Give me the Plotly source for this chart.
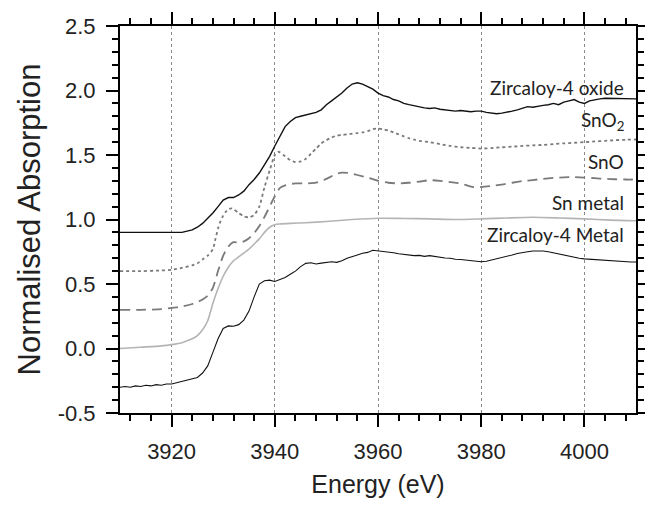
import plotly.graph_objects as go

# ---------------- data ----------------
oxide_E = [3910, 3912, 3914, 3916, 3918, 3920, 3921, 3922, 3923, 3924, 3925, 3926, 3927, 3928, 3929,
           3930, 3931, 3932, 3933, 3934, 3935, 3936, 3937, 3938, 3939, 3940, 3941, 3942, 3943, 3944,
           3945, 3946, 3947, 3948, 3949, 3950, 3951, 3952, 3953, 3954, 3955, 3956, 3957, 3958, 3959,
           3960, 3961, 3962, 3963, 3964, 3965, 3966, 3967, 3968, 3969, 3970, 3971, 3972, 3973, 3974,
           3975, 3976, 3977, 3978, 3979, 3980, 3981, 3982, 3983, 3984, 3985, 3986, 3987, 3988, 3989,
           3990, 3991, 3992, 3993, 3994, 3995, 3996, 3997, 3998, 3999, 4000, 4001, 4002, 4003, 4004,
           4006, 4008, 4010]
oxide_A = [0.90, 0.90, 0.90, 0.90, 0.90, 0.90, 0.905, 0.90, 0.91, 0.92, 0.94, 0.97, 1.01, 1.05, 1.10,
           1.15, 1.17, 1.17, 1.19, 1.22, 1.27, 1.31, 1.36, 1.42, 1.49, 1.57, 1.65, 1.72, 1.76, 1.79,
           1.80, 1.81, 1.815, 1.83, 1.85, 1.89, 1.92, 1.95, 1.98, 2.02, 2.05, 2.06, 2.05, 2.03, 2.01,
           1.98, 1.96, 1.95, 1.93, 1.92, 1.90, 1.89, 1.88, 1.87, 1.865, 1.86, 1.865, 1.855, 1.85, 1.84,
           1.84, 1.845, 1.84, 1.835, 1.84, 1.84, 1.83, 1.825, 1.82, 1.825, 1.83, 1.84, 1.85, 1.86, 1.875,
           1.87, 1.88, 1.885, 1.89, 1.90, 1.89, 1.91, 1.92, 1.93, 1.91, 1.90, 1.92, 1.93, 1.935, 1.94,
           1.94, 1.94, 1.935]

sno2_E = [3910, 3914, 3918, 3920, 3922, 3924, 3925, 3926, 3927, 3928, 3928.5, 3929, 3929.5, 3930, 3930.5,
          3931, 3931.6, 3932, 3933, 3934, 3935, 3936, 3937, 3938, 3939, 3940, 3940.6, 3941, 3942, 3943,
          3944, 3945, 3946, 3947, 3948, 3949, 3950, 3951, 3952, 3953, 3954, 3955, 3956, 3957, 3958,
          3959, 3960, 3961, 3962, 3963, 3964, 3965, 3966, 3967, 3968, 3970, 3972, 3974, 3976, 3978,
          3980, 3982, 3984, 3986, 3988, 3990, 3992, 3994, 3996, 3998, 4000, 4002, 4004, 4006, 4008, 4010]
sno2_A = [0.60, 0.60, 0.605, 0.61, 0.625, 0.645, 0.66, 0.69, 0.72, 0.77, 0.85, 0.93, 0.99, 1.03, 1.06,
          1.08, 1.087, 1.08, 1.05, 1.025, 1.017, 1.035, 1.10, 1.25, 1.38, 1.50, 1.525, 1.52, 1.49, 1.46,
          1.445, 1.45, 1.47, 1.51, 1.55, 1.59, 1.615, 1.635, 1.65, 1.655, 1.66, 1.665, 1.67, 1.675, 1.685,
          1.70, 1.705, 1.70, 1.69, 1.675, 1.66, 1.645, 1.63, 1.62, 1.61, 1.60, 1.585, 1.57, 1.56, 1.555,
          1.55, 1.553, 1.56, 1.565, 1.57, 1.575, 1.578, 1.585, 1.59, 1.595, 1.60, 1.605, 1.61, 1.615, 1.618, 1.62]

sno_E = [3910, 3914, 3918, 3920, 3922, 3924, 3925, 3926, 3927, 3928, 3929, 3930, 3931, 3932, 3933,
         3934, 3935, 3936, 3937, 3938, 3939, 3940, 3941, 3942, 3943, 3944, 3946, 3948, 3950, 3951,
         3952, 3953, 3954, 3955, 3956, 3958, 3960, 3962, 3964, 3966, 3968, 3970, 3972, 3974, 3976,
         3978, 3979, 3980, 3982, 3984, 3986, 3988, 3990, 3992, 3994, 3996, 3998, 4000, 4002, 4004,
         4006, 4008, 4010]
sno_A = [0.30, 0.30, 0.305, 0.315, 0.325, 0.345, 0.36, 0.38, 0.41, 0.47, 0.60, 0.72, 0.79, 0.825, 0.82,
         0.83, 0.855, 0.895, 0.95, 1.02, 1.10, 1.18, 1.245, 1.265, 1.275, 1.28, 1.28, 1.285, 1.315, 1.335,
         1.355, 1.363, 1.362, 1.355, 1.345, 1.325, 1.30, 1.285, 1.28, 1.285, 1.293, 1.305, 1.30, 1.29, 1.28,
         1.255, 1.25, 1.252, 1.26, 1.27, 1.285, 1.298, 1.306, 1.315, 1.322, 1.327, 1.328, 1.325, 1.32, 1.315,
         1.312, 1.31, 1.31]

sn_E = [3910, 3914, 3918, 3920, 3922, 3923, 3924, 3925, 3926, 3927, 3928, 3929, 3930, 3931, 3932,
        3933, 3934, 3935, 3936, 3937, 3938, 3939, 3940, 3941, 3943, 3946, 3950, 3955, 3960, 3965,
        3970, 3975, 3980, 3985, 3990, 3995, 4000, 4005, 4010]
sn_A = [0.00, 0.01, 0.02, 0.03, 0.045, 0.06, 0.075, 0.10, 0.145, 0.215, 0.35, 0.465, 0.56, 0.63, 0.68,
        0.71, 0.74, 0.77, 0.81, 0.85, 0.90, 0.94, 0.96, 0.965, 0.97, 0.975, 0.985, 1.00, 1.01, 1.008,
        1.005, 1.00, 1.005, 1.012, 1.017, 1.012, 1.005, 0.995, 0.99]

zr_E = [3910, 3911, 3912, 3913, 3914, 3915, 3916, 3917, 3918, 3919, 3920, 3921, 3922, 3923, 3924,
        3925, 3926, 3927, 3928, 3929, 3930, 3931, 3932, 3933, 3934, 3935, 3936, 3937, 3938, 3939,
        3940, 3941, 3942, 3943, 3944, 3945, 3946, 3947, 3948, 3949, 3950, 3951, 3952, 3953, 3954,
        3955, 3956, 3957, 3958, 3959, 3960, 3961, 3962, 3963, 3964, 3965, 3966, 3967, 3968, 3969,
        3970, 3971, 3972, 3973, 3974, 3975, 3976, 3977, 3978, 3979, 3980, 3981, 3982, 3983, 3984,
        3985, 3986, 3987, 3988, 3989, 3990, 3991, 3992, 3993, 3994, 3995, 3996, 3997, 3998, 3999,
        4000, 4001, 4002, 4003, 4004, 4005, 4006, 4007, 4008, 4009, 4010]
zr_A = [-0.30, -0.295, -0.30, -0.29, -0.295, -0.285, -0.29, -0.28, -0.285, -0.275, -0.275, -0.265, -0.26, -0.25, -0.24,
        -0.225, -0.19, -0.135, -0.03, 0.075, 0.155, 0.175, 0.172, 0.185, 0.22, 0.29, 0.40, 0.50, 0.525, 0.53,
        0.52, 0.535, 0.55, 0.575, 0.60, 0.635, 0.66, 0.665, 0.655, 0.662, 0.665, 0.672, 0.668, 0.68, 0.70,
        0.71, 0.725, 0.738, 0.745, 0.762, 0.758, 0.755, 0.748, 0.742, 0.735, 0.73, 0.726, 0.72, 0.722, 0.714,
        0.72, 0.713, 0.71, 0.702, 0.70, 0.692, 0.69, 0.686, 0.68, 0.676, 0.672, 0.676, 0.685, 0.695, 0.705,
        0.715, 0.725, 0.736, 0.745, 0.75, 0.756, 0.758, 0.756, 0.75, 0.742, 0.733, 0.725, 0.716, 0.705, 0.70,
        0.695, 0.692, 0.689, 0.686, 0.68, 0.682, 0.675, 0.676, 0.672, 0.67, 0.67]

labels = ["Zircaloy-4 oxide", "SnO<sub>2</sub>", "SnO", "Sn metal", "Zircaloy-4 Metal"]
label_y = [2.02, 1.76, 1.45, 1.135, 0.88]

x_ticks = [3920, 3940, 3960, 3980, 4000]
y_ticks = [-0.5, 0.0, 0.5, 1.0, 1.5, 2.0, 2.5]
y_ticktext = ["-0.5", "0.0", "0.5", "1.0", "1.5", "2.0", "2.5"]

# ---------------- figure ----------------
fig = go.Figure()
fig.add_trace(go.Scatter(x=oxide_E, y=oxide_A, mode="lines",
                         line=dict(color="#111111", width=1.4)))
fig.add_trace(go.Scatter(x=sno2_E, y=sno2_A, mode="lines",
                         line=dict(color="#7a7a7a", width=1.8, dash="dot", shape="spline", smoothing=0.6)))
fig.add_trace(go.Scatter(x=sno_E, y=sno_A, mode="lines",
                         line=dict(color="#7a7a7a", width=1.8, dash="10px,6px", shape="spline", smoothing=0.6)))
fig.add_trace(go.Scatter(x=sn_E, y=sn_A, mode="lines",
                         line=dict(color="#b4b4b4", width=1.6, shape="spline", smoothing=0.6)))
fig.add_trace(go.Scatter(x=zr_E, y=zr_A, mode="lines",
                         line=dict(color="#111111", width=1.1)))

for txt, yv in zip(labels, label_y):
    fig.add_annotation(x=4008, y=yv, text=txt, showarrow=False, xanchor="right", yanchor="middle",
                       font=dict(family="Lato", size=19, color="#222222"))

axis_common = dict(showline=True, linecolor="black", linewidth=2, mirror="allticks",
                   ticks="outside", tickcolor="black", tickwidth=1.5, ticklen=12,
                   tickfont=dict(family="Liberation Sans", size=22, color="#222222"),
                   zeroline=False, automargin=False)

fig.update_xaxes(range=[3910, 4010], tickvals=x_ticks, showgrid=True, gridcolor="#8a8a8a",
                 gridwidth=1.3, griddash="dot", ticklabelstandoff=6,
                 minor=dict(dtick=4, tick0=3920, ticks="outside", ticklen=6, tickwidth=1.5,
                            tickcolor="black", showgrid=False),
                 title=dict(text="Energy (eV)", font=dict(family="Liberation Sans", size=25, color="#222222"),
                            standoff=12),
                 **axis_common)
fig.update_yaxes(range=[-0.5, 2.5], tickvals=y_ticks, ticktext=y_ticktext, showgrid=False,
                 ticklabelstandoff=6,
                 minor=dict(dtick=0.1, tick0=0, ticks="outside", ticklen=6, tickwidth=1.5,
                            tickcolor="black", showgrid=False),
                 title=dict(text="Normalised Absorption", font=dict(family="Liberation Sans", size=31,
                                                                    color="#222222"), standoff=8),
                 **axis_common)

fig.update_layout(width=645, height=511, margin=dict(l=120, r=9, t=26, b=98),
                  plot_bgcolor="white", paper_bgcolor="white", showlegend=False)

fig.write_html("out.html")
